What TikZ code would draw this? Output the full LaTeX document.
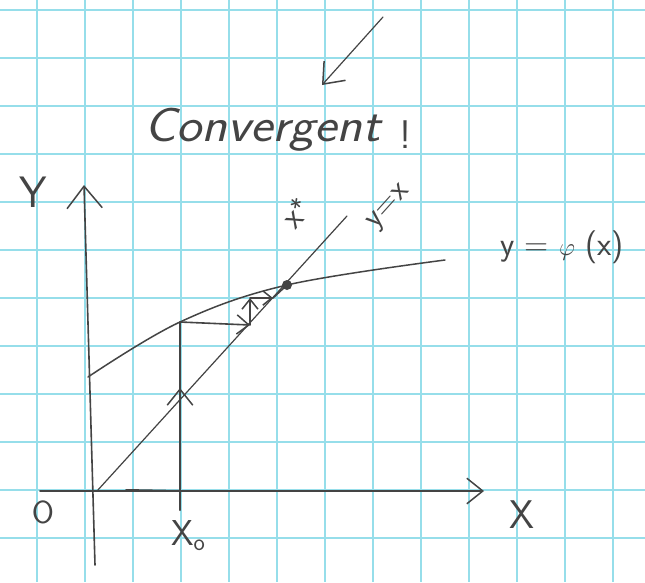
\documentclass[tikz,border=0pt]{standalone}
\usepackage{fontspec}
\usetikzlibrary{arrows.meta}
\definecolor{gridc}{RGB}{150,222,234}
\definecolor{pencil}{RGB}{68,68,68}
\newcommand{\fsz}[1]{\fontsize{#1}{#1}\selectfont}
\begin{document}
\begin{tikzpicture}[x=1pt,y=-1pt,
  pen/.style={draw=pencil,line width=1.6pt,line cap=round,line join=round},
  thinpen/.style={draw=pencil,line width=1.2pt,line cap=round},
  barb/.style={-{Straight Barb[length=#1,width=1.6*#1,line width=1.5pt]}},
  lab/.style={text=pencil,font=\sffamily,inner sep=0pt}]
\useasboundingbox (0,0) rectangle (645,582);
\fill[white] (0,0) rectangle (645,582);
% graph paper
\foreach \i in {0,...,12} \draw[gridc,line width=1.6pt] ({37+48*\i},0) -- ({37+48*\i},582);
\foreach \j in {0,...,11} \draw[gridc,line width=1.6pt] (0,{10+48*\j}) -- (645,{10+48*\j});

% key points
\coordinate (O) at (97,491);
\coordinate (xs) at (40,491);
\coordinate (xe) at (484,491);
\coordinate (yt) at (84,185);
\coordinate (yb) at (95,565);
\coordinate (c0) at (88,377);
\coordinate (A) at (180,322);
\coordinate (P) at (287,285);
\coordinate (c3) at (445,260);
\coordinate (L) at (347,216);
\coordinate (x0t) at (180,510);
\coordinate (x0b) at (180,491);
\coordinate (up1) at (180,430);
\coordinate (up2) at (180,388);
\coordinate (B1) at (250,325);
\coordinate (C1) at (250,298);
\coordinate (B2) at (273,298);
\coordinate (ar1) at (383,17);
\coordinate (ar2) at (322,85);

% axes
\draw[pen,barb=16pt] (xs) -- (xe);
\draw[pen,barb=22pt] (yb) -- (yt);
% curve y = phi(x)
\draw[pen,line width=1.5pt] plot[smooth,tension=0.6] coordinates {(c0) (A) (P) (c3)};
% line y = x
\draw[thinpen] (O) -- (L);
% cobweb
\draw[pen,line width=2pt] (126,490) -- (x0b);
\draw[pen,line width=2pt] (x0t) -- (A);
\draw[pen,line width=2pt,barb=16pt] (up1) -- (up2);
\draw[pen,barb=12pt] (A) -- (B1);
\draw[pen,barb=10pt] (B1) -- (C1);
\draw[pen,barb=9pt] (C1) -- (B2);
\draw[pen] (B2) -- (P);
\fill[pencil] (P) circle (5pt);
% top arrow
\draw[thinpen,barb=18pt] (ar1) -- (ar2);

% labels
\node[lab] (lY) at (33,192) {\fsz{44}Y};
\node[lab] (lX) at (522,515) {\fsz{40}X};
\node[lab] (lO) at (43,512) {\fsz{32}O};
\node[lab] (lx0) at (188,536) {\fsz{36}X\raisebox{-5pt}{\fsz{24}o}};
\node[lab,rotate=48] (lxs) at (296,213) {\fsz{34}x\raisebox{4pt}{\fsz{26}*}};
\node[lab,rotate=48] (lyx) at (390,208) {\fsz{32}y=x};
\node[lab] (lphi) at (562,247) {\fsz{33}y = $\varphi$ (x)};
\node[lab,anchor=west] (conv) at (144,130) {\scalebox{1.11}[1]{\fsz{48}\itshape Convergent}};
\node[lab] (excl) at (405,135) {\fsz{40}!};
\end{tikzpicture}
\end{document}
